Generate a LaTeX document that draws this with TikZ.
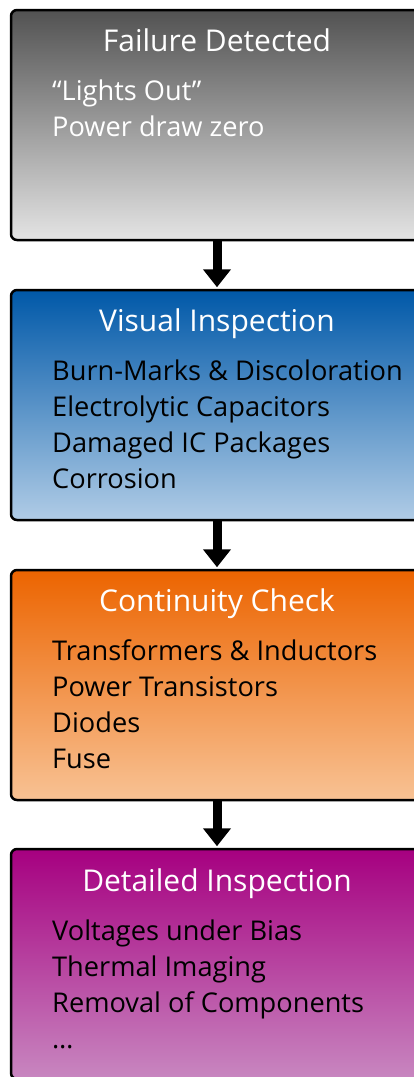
\documentclass[tikz,border=0pt]{standalone}
\usepackage{fontspec}
\setmainfont{Open Sans}
\usetikzlibrary{arrows.meta}
\definecolor{grayT}{RGB}{82,82,82}
\definecolor{grayM}{RGB}{150,150,150}
\definecolor{grayB}{RGB}{228,228,228}
\definecolor{blueT}{RGB}{0,88,168}
\definecolor{blueM}{RGB}{70,135,195}
\definecolor{blueB}{RGB}{176,204,230}
\definecolor{orT}{RGB}{236,100,0}
\definecolor{orM}{RGB}{240,145,70}
\definecolor{orB}{RGB}{248,194,148}
\definecolor{puT}{RGB}{166,0,128}
\definecolor{puM}{RGB}{185,75,160}
\definecolor{puB}{RGB}{200,135,192}
\tikzset{
  stagebox/.style={draw=black, line width=2.5pt, rounded corners=6pt,
    minimum width=412pt, minimum height=230pt, inner sep=0pt},
  stagetitle/.style={font=\fontsize{30}{33}\selectfont, text=white, anchor=base, inner sep=0pt},
  stageline/.style={font=\fontsize{27.2}{30}\selectfont, anchor=base west, inner sep=0pt},
  flow/.style={line width=9pt, -{Triangle[width=27pt,length=18pt]}, shorten >=1.5pt}
}
\begin{document}
\begin{tikzpicture}[x=1pt,y=1pt]
\useasboundingbox (0,0) rectangle (414,-1077);
\node[stagebox, top color=grayT, middle color=grayM, bottom color=grayB] (b1) at (217,-125) {};
\node[stagebox, top color=blueT, middle color=blueM, bottom color=blueB] (b2) at (217,-405) {};
\node[stagebox, top color=orT, middle color=orM, bottom color=orB] (b3) at (217,-685) {};
\node[stagebox, top color=puT, middle color=puM, bottom color=puB] (b4) at (217,-964) {};

\node[stagetitle] (t1) at (217,-51) {Failure Detected};
\node[stageline, text=white] (l11) at (52,-100) {“Lights Out”};
\node[stageline, text=white] (l12) at (52,-136) {Power draw zero};

\node[stagetitle] (t2) at (217,-331) {Visual Inspection};
\node[stageline] (l21) at (52,-380) {Burn-Marks \& Discoloration};
\node[stageline] (l22) at (52,-416) {Electrolytic Capacitors};
\node[stageline] (l23) at (52,-452) {Damaged IC Packages};
\node[stageline] (l24) at (52,-488) {Corrosion};

\node[stagetitle] (t3) at (217,-611) {Continuity Check};
\node[stageline] (l31) at (52,-660) {Transformers \& Inductors};
\node[stageline] (l32) at (52,-696) {Power Transistors};
\node[stageline] (l33) at (52,-732) {Diodes};
\node[stageline] (l34) at (52,-768) {Fuse};

\node[stagetitle] (t4) at (217,-891) {Detailed Inspection};
\node[stageline] (l41) at (52,-940) {Voltages under Bias};
\node[stageline] (l42) at (52,-976) {Thermal Imaging};
\node[stageline] (l43) at (52,-1012) {Removal of Components};
\node[stageline] (l44) at (52,-1048) {…};

\draw[flow] (b1.south) -- (b2.north);
\draw[flow] (b2.south) -- (b3.north);
\draw[flow] (b3.south) -- (b4.north);
\end{tikzpicture}
\end{document}
